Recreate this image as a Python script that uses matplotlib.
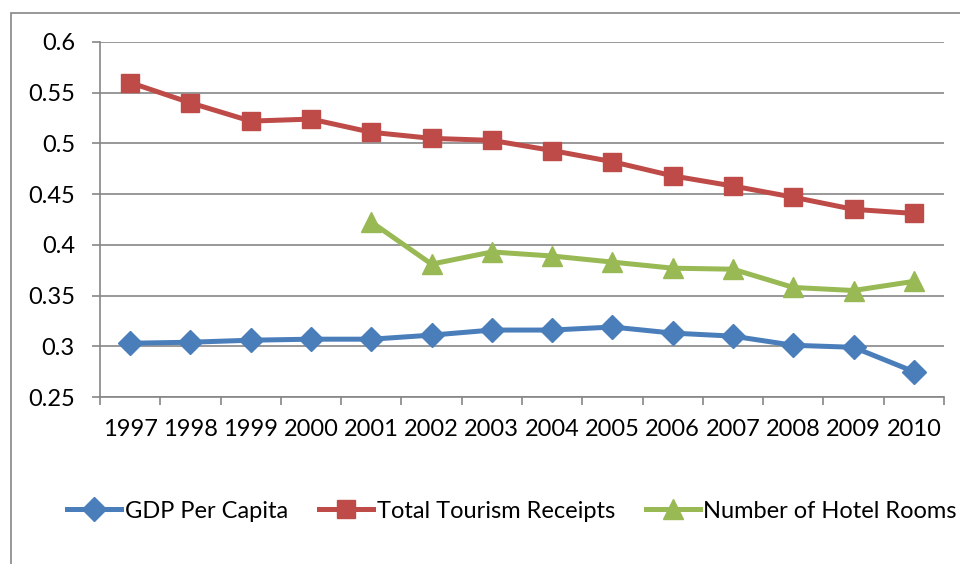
import matplotlib
matplotlib.use("Agg")
import matplotlib.pyplot as plt
from matplotlib.patches import Rectangle
import numpy as np

years = ["1997", "1998", "1999", "2000", "2001", "2002", "2003", "2004",
         "2005", "2006", "2007", "2008", "2009", "2010"]
gdp = [0.303, 0.304, 0.306, 0.307, 0.307, 0.311, 0.316, 0.316,
       0.319, 0.313, 0.310, 0.301, 0.299, 0.275]
tourism = [0.560, 0.540, 0.522, 0.524, 0.511, 0.505, 0.503, 0.493,
           0.482, 0.468, 0.458, 0.447, 0.435, 0.431]
hotel = [np.nan, np.nan, np.nan, np.nan, 0.4225, 0.381, 0.393, 0.389,
         0.383, 0.377, 0.376, 0.358, 0.355, 0.364]
yticks = [0.25, 0.3, 0.35, 0.4, 0.45, 0.5, 0.55, 0.6]
ytick_labels = ["0.25", "0.3", "0.35", "0.4", "0.45", "0.5", "0.55", "0.6"]

plt.rcParams['font.family'] = ['Lato', 'DejaVu Sans']
FS = 17
grid_c = "#868686"

fig = plt.figure(figsize=(9.6, 5.64), dpi=100)
fig.patches.append(Rectangle((11/960, -0.1), 1.2, 1 - 13/564 + 0.1,
                             transform=fig.transFigure, fill=False,
                             edgecolor=grid_c, linewidth=1.2))
ax = fig.add_axes([100/960, 1 - 397/564, 844/960, 355/564])

x = np.arange(len(years))
ax.plot(x, gdp, color="#4A7EBB", lw=3.6, marker="D", ms=12,
        label="GDP Per Capita", zorder=3)
ax.plot(x, tourism, color="#BE4B48", lw=3.6, marker="s", ms=13,
        label="Total Tourism Receipts", zorder=3)
ax.plot(x, hotel, color="#98B954", lw=3.6, marker="^", ms=14,
        label="Number of Hotel Rooms", zorder=3)

ax.set_xlim(-0.5, len(years) - 0.5)
ax.set_ylim(0.25, 0.6)
ax.set_yticks(yticks)
ax.set_yticklabels(ytick_labels, fontsize=FS)
ax.yaxis.grid(True, color=grid_c, lw=1.2)
ax.set_axisbelow(True)
ax.set_xticks(np.arange(len(years) + 1) - 0.5)
ax.set_xticklabels([])
ax.set_xticks(x, minor=True)
ax.set_xticklabels(years, minor=True, fontsize=FS)
ax.tick_params(axis='x', which='major', length=6, width=1.2, color=grid_c,
               direction='out')
ax.tick_params(axis='x', which='minor', length=0, pad=16)
ax.tick_params(axis='y', length=6, width=1.2, color=grid_c, pad=12)
for s in ["top", "right"]:
    ax.spines[s].set_visible(False)
for s in ["left", "bottom"]:
    ax.spines[s].set_color(grid_c)
    ax.spines[s].set_linewidth(1.2)

fig.legend(loc="center", bbox_to_anchor=(512/960, 1 - 511/564), ncol=3,
           frameon=False, fontsize=FS, handlelength=2.3, handletextpad=0.15,
           columnspacing=1.3, borderaxespad=0)

fig.savefig("out.png", dpi=100)
